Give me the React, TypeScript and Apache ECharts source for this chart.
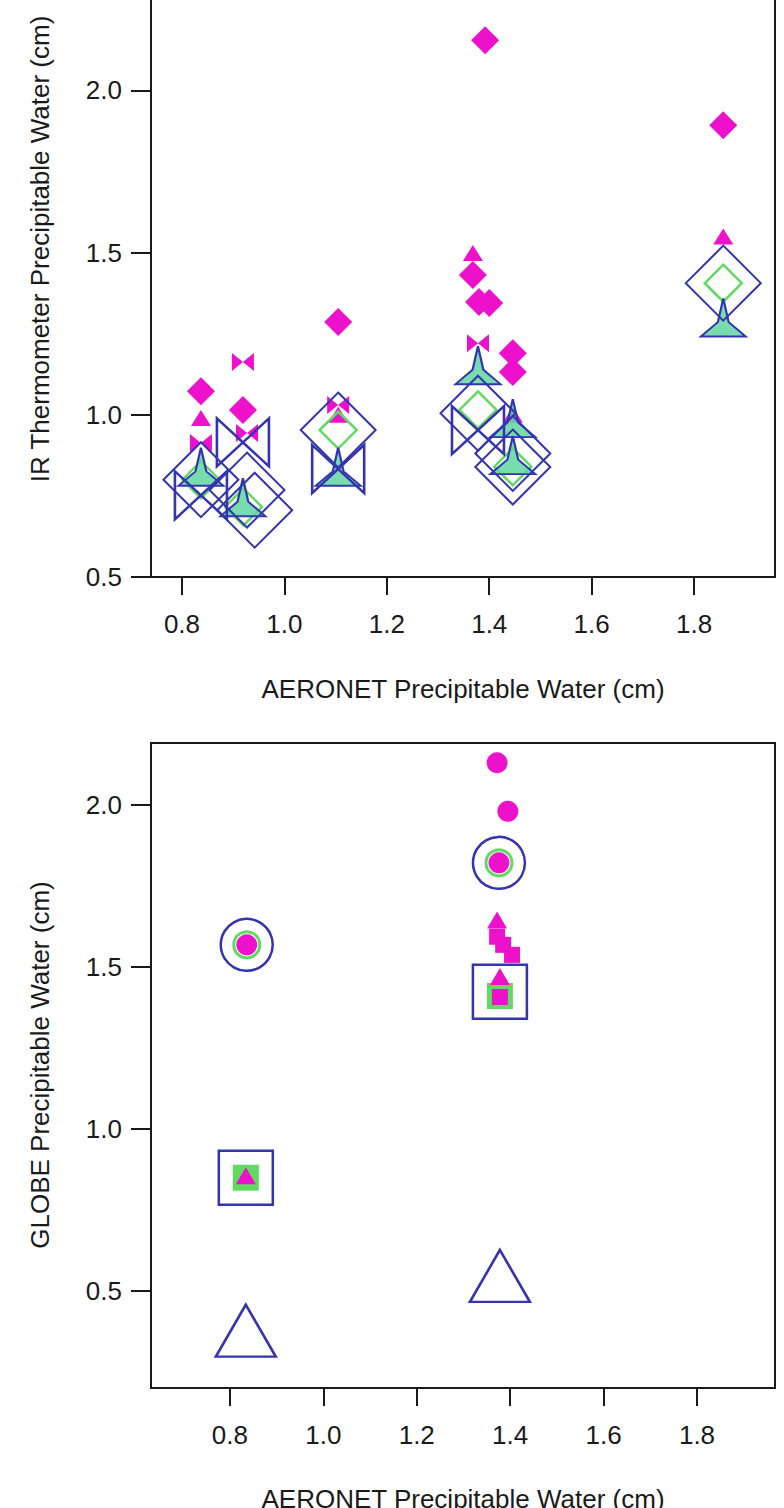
import React, { useEffect, useRef } from "react";
import * as echarts from "echarts";

// ---------- colours ----------
const MAGENTA = "#ee11cc";
const GREEN = "#5fdc5f";
const BLUE = "#3434b0";
const INK = "#1a1a1a";
const FONT = "Liberation Sans, Arial, sans-serif";

// ---------- ticks ----------
const xTicks = [0.8, 1.0, 1.2, 1.4, 1.6, 1.8];
const yTicks = [0.5, 1.0, 1.5, 2.0];

// ---------- titles ----------
const xTitle = "AERONET Precipitable Water (cm)";
const yTitleTop = "IR Thermometer Precipitable Water (cm)";
const yTitleBottom = "GLOBE Precipitable Water (cm)";

// ---------- top panel: IR thermometer vs AERONET ----------
const irMagentaDiamonds = [
  [1.392, 2.155], [1.857, 1.893], [1.105, 1.286], [0.837, 1.073], [0.919, 1.015],
  [1.368, 1.431], [1.38, 1.348], [1.4, 1.345], [1.446, 1.19], [1.446, 1.132],
];
const irMagentaTriangles = [
  [1.857, 1.55], [1.368, 1.499], [0.837, 0.99], [1.105, 1.0], [1.446, 1.0],
];
const irMagentaBowties = [
  [0.919, 1.163], [0.837, 0.913], [1.378, 1.221], [1.105, 1.03], [0.927, 0.944],
];
const irGreenDiamonds = [
  [1.857, 1.406], [1.105, 0.953], [1.378, 1.015], [1.446, 0.84], [0.837, 0.8], [0.92, 0.716],
];
const irBlueDiamonds = [
  [1.857, 1.406], [1.105, 0.953], [1.378, 1.005], [1.446, 0.881], [1.446, 0.839],
  [0.837, 0.8], [0.927, 0.768], [0.942, 0.706],
];
const irBlueBowties = [
  [0.919, 0.915], [0.837, 0.752], [1.105, 0.833], [1.378, 0.953],
];
const irStarTriangles = [
  [1.857, 1.3], [1.378, 1.153], [1.446, 0.99], [1.446, 0.876], [0.837, 0.84],
  [0.919, 0.746], [1.105, 0.84],
];

// ---------- bottom panel: GLOBE vs AERONET ----------
const globeBlueCircles = [[0.836, 1.568], [1.376, 1.821]];
const globeGreenCircles = [[0.836, 1.568], [1.376, 1.821]];
const globeMagentaCircles = [[0.836, 1.568], [1.376, 1.821], [1.372, 2.13], [1.395, 1.98]];
const globeBlueSquares = [[0.834, 0.849], [1.378, 1.423]];
const globeGreenSquares = [[0.834, 0.849], [1.378, 1.41]];
const globeGreenTriangles = [[1.378, 1.455]];
const globeMagentaTriangles = [[0.834, 0.855], [1.372, 1.645], [1.378, 1.47]];
const globeMagentaSquares = [[1.372, 1.593], [1.385, 1.568], [1.404, 1.537], [1.378, 1.407]];
const globeBlueTriangles = [[0.834, 0.377], [1.378, 0.546]];

// ---------- symbols ----------
const BOWTIE = "path://M0,0 L100,100 L100,0 L0,100 Z";
const STAR_TRI = "path://M50,0 L62,62 L100,100 L0,100 L38,62 Z";

const textStyle = { color: INK, fontSize: 26, fontFamily: FONT };

function makeXAxis(gridIndex: number, min: number, max: number) {
  return {
    type: "value",
    gridIndex,
    min,
    max,
    axisLine: { show: true, onZero: false, lineStyle: { color: INK, width: 2 } },
    axisTick: { show: true, length: 18, customValues: xTicks, lineStyle: { color: INK, width: 2 } },
    axisLabel: {
      customValues: xTicks,
      margin: 34,
      formatter: (v: number) => v.toFixed(1),
      ...textStyle,
    },
    splitLine: { show: false },
  };
}

function makeYAxis(gridIndex: number, min: number, max: number) {
  return {
    type: "value",
    gridIndex,
    min,
    max,
    axisLine: { show: true, onZero: false, lineStyle: { color: INK, width: 2 } },
    axisTick: { show: true, length: 20, customValues: yTicks, lineStyle: { color: INK, width: 2 } },
    axisLabel: {
      customValues: yTicks,
      margin: 29,
      formatter: (v: number) => v.toFixed(1),
      ...textStyle,
    },
    splitLine: { show: false },
  };
}

function sc(
  name: string,
  panel: number,
  data: number[][],
  symbol: string,
  size: number | number[],
  fill: string,
  stroke?: string,
  strokeWidth = 2
) {
  return {
    type: "scatter",
    name,
    xAxisIndex: panel,
    yAxisIndex: panel,
    data,
    symbol,
    symbolSize: size,
    silent: true,
    itemStyle: {
      color: fill,
      opacity: 1,
      borderColor: stroke || "rgba(0,0,0,0)",
      borderWidth: stroke ? strokeWidth : 0,
    },
  };
}

export default function App() {
  const ref = useRef<HTMLDivElement>(null);

  useEffect(() => {
    document.body.style.margin = "0";
    const chart = echarts.init(ref.current!, null, { renderer: "svg" });
    const NONE = "rgba(0,0,0,0)";
    chart.setOption({
      animation: false,
      backgroundColor: "#ffffff",
      grid: [
        { left: 151, right: 9, top: 0, height: 577, show: false },
        { left: 151, right: 9, top: 743, height: 645, show: true, borderColor: INK, borderWidth: 2, backgroundColor: NONE },
      ],
      xAxis: [makeXAxis(0, 0.7395, 1.958), makeXAxis(1, 0.631, 1.967)],
      yAxis: [
        makeYAxis(0, 0.5, 2.279),
        makeYAxis(1, 0.2, 2.191),
        {
          type: "value",
          gridIndex: 0,
          position: "right",
          min: 0.5,
          max: 2.279,
          axisLine: { show: true, onZero: false, lineStyle: { color: INK, width: 2 } },
          axisTick: { show: false },
          axisLabel: { show: false },
          splitLine: { show: false },
        },
      ],
      series: [
        // top panel
        sc("IR magenta diamonds", 0, irMagentaDiamonds, "diamond", 28, MAGENTA),
        sc("IR magenta triangles", 0, irMagentaTriangles, "triangle", [20, 16], MAGENTA),
        sc("IR magenta bowties", 0, irMagentaBowties, BOWTIE, [22, 18], MAGENTA),
        sc("IR green diamonds", 0, irGreenDiamonds, "diamond", 37, NONE, GREEN, 2.5),
        sc("IR triangles", 0, irStarTriangles, STAR_TRI, [45, 38], "rgba(95,215,160,0.85)", BLUE, 2),
        sc("IR blue diamonds", 0, irBlueDiamonds, "diamond", 75, NONE, BLUE, 2),
        sc("IR blue bowties", 0, irBlueBowties, BOWTIE, [52, 48], NONE, BLUE, 2.5),
        // bottom panel
        sc("GLOBE blue squares", 1, globeBlueSquares, "rect", 54, NONE, BLUE, 2.5),
        sc("GLOBE green squares", 1, globeGreenSquares, "rect", 26, GREEN),
        sc("GLOBE green triangles", 1, globeGreenTriangles, "triangle", [26, 22], GREEN),
        sc("GLOBE magenta squares", 1, globeMagentaSquares, "rect", 16, MAGENTA),
        sc("GLOBE magenta triangles", 1, globeMagentaTriangles, "triangle", [20, 17], MAGENTA),
        sc("GLOBE blue circles", 1, globeBlueCircles, "circle", 52, NONE, BLUE, 2.5),
        sc("GLOBE green circles", 1, globeGreenCircles, "circle", 26, NONE, GREEN, 3),
        sc("GLOBE magenta circles", 1, globeMagentaCircles, "circle", 21, MAGENTA),
        sc("GLOBE blue triangles", 1, globeBlueTriangles, "triangle", [60, 52], NONE, BLUE, 2.5),
      ],
      graphic: [
        { type: "text", x: 463, y: 689, style: { text: xTitle, align: "center", verticalAlign: "middle", fill: INK, font: `26px ${FONT}` } },
        { type: "text", x: 463, y: 1499, style: { text: xTitle, align: "center", verticalAlign: "middle", fill: INK, font: `26px ${FONT}` } },
        { type: "text", x: 40, y: 249, rotation: Math.PI / 2, style: { text: yTitleTop, align: "center", verticalAlign: "middle", fill: INK, font: `26px ${FONT}` } },
        { type: "text", x: 40, y: 1065, rotation: Math.PI / 2, style: { text: yTitleBottom, align: "center", verticalAlign: "middle", fill: INK, font: `26px ${FONT}` } },
      ],
    });
    return () => chart.dispose();
  }, []);

  return <div ref={ref} style={{ width: 784, height: 1508 }} />;
}
